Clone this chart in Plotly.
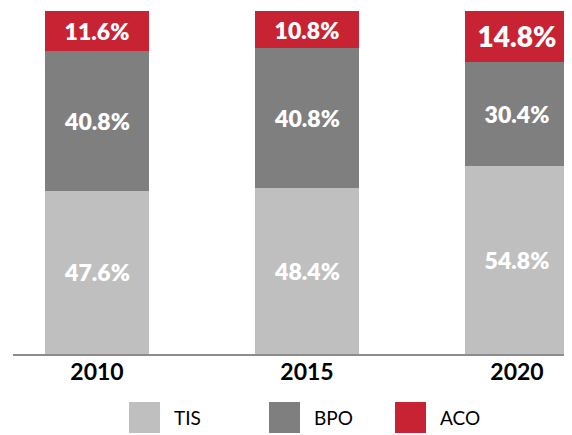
import plotly.graph_objects as go

years = ["2010", "2015", "2020"]
series_names = ["TIS", "BPO", "ACO"]
tis = [47.6, 48.4, 54.8]
bpo = [40.8, 40.8, 30.4]
aco = [11.6, 10.8, 14.8]
colors = ["#BFBFBF", "#7F7F7F", "#C82333"]
label_sizes = {"TIS": [23, 23, 23], "BPO": [23, 23, 23], "ACO": [23, 23, 28]}

FONT = "Lato, 'Open Sans', sans-serif"

fig = go.Figure()
for name, vals, col in zip(series_names, [tis, bpo, aco], colors):
    fig.add_trace(go.Bar(
        x=years, y=vals, name=name, marker=dict(color=col, line=dict(width=0)),
        text=[f"{v:.1f}%" for v in vals], textposition="inside",
        insidetextanchor="middle",
        textfont=dict(color="white", size=label_sizes[name], family=FONT, weight=800),
        width=0.495, showlegend=False,
    ))

# page body has an 8px margin: figure coords = screen coords - 8
OFF = 8
W, H = 572, 435
L, R, T, B = 13 - OFF, OFF, 11 - OFF, H - (354 - OFF)
pw, ph = W - L - R, H - T - B

def px(x):
    return (x - OFF - L) / pw

def py(y):
    return (H - B - (y - OFF)) / ph

shapes, annotations = [], []
leg_x = [129, 269, 395]
for name, col, x0 in zip(series_names, colors, leg_x):
    shapes.append(dict(type="rect", xref="paper", yref="paper",
                       x0=px(x0), x1=px(x0 + 31), y0=py(433), y1=py(402),
                       fillcolor=col, line=dict(width=0)))
    annotations.append(dict(xref="paper", yref="paper", x=px(x0 + 43), y=py(417),
                            text=name, showarrow=False, xanchor="left", yanchor="middle",
                            font=dict(size=19, color="#000000", family=FONT)))

fig.update_layout(
    barmode="stack", width=W, height=H,
    margin=dict(l=L, r=R, t=T, b=B),
    plot_bgcolor="white", paper_bgcolor="white",
    bargap=0.5, shapes=shapes, annotations=annotations,
    xaxis=dict(range=[-0.4, 2.262], showline=True, linecolor="#8C8C8C", linewidth=2,
               tickfont=dict(size=23, color="#000000", family=FONT, weight="bold"),
               ticks="", showgrid=False, ticklabelstandoff=-4),
    yaxis=dict(range=[0, 100], visible=False, showgrid=False),
    uniformtext=dict(minsize=8),
)
fig.write_html("out.html")
